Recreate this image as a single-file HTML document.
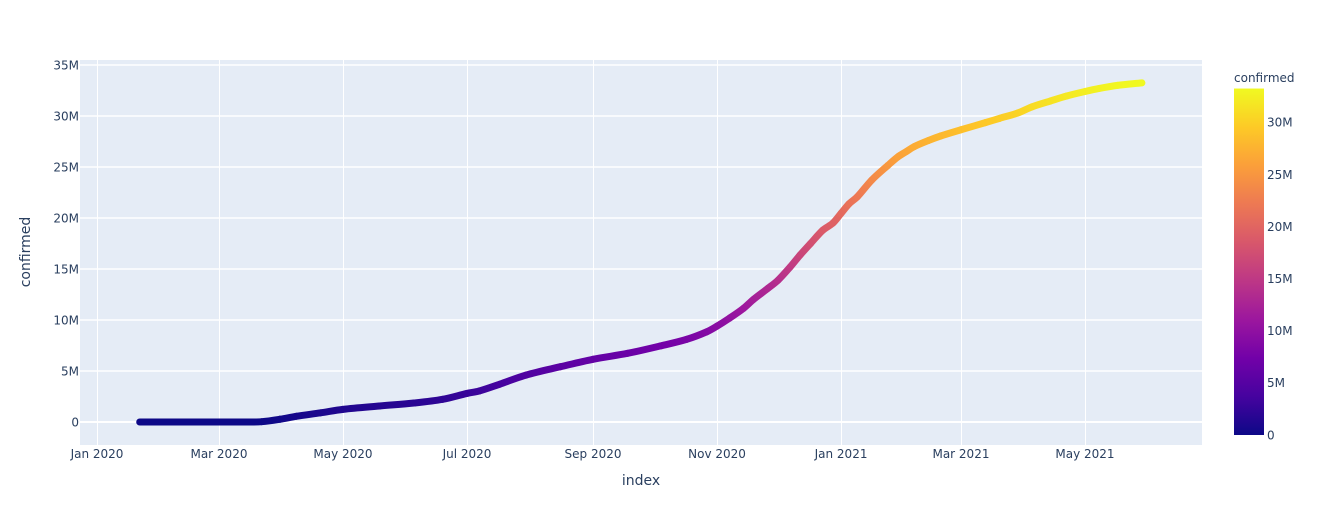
<!DOCTYPE html>
<html lang="en">
<head>
<meta charset="utf-8">
<title>Confirmed over time</title>
<style>
  html, body { margin: 0; padding: 0; background: #fff; }
  svg { display: block; }
  text { font-family: "DejaVu Sans", "Liberation Sans", sans-serif; fill: #2a3f5f; }
</style>
</head>
<body>
<svg id="chart" xmlns="http://www.w3.org/2000/svg" width="1317" height="525" viewBox="0 0 1317 525">
  <rect x="0" y="0" width="1317" height="525" fill="#ffffff"></rect>
  <rect x="80" y="60" width="1122" height="385" fill="#E5ECF6"></rect>
  <g id="grid"></g>
  <g id="series"></g>
  <g id="xticks"></g>
  <g id="yticks"></g>
  <text x="641" y="485" font-size="14" text-anchor="middle">index</text>
  <text x="0" y="0" font-size="14" text-anchor="middle" transform="translate(30,252) rotate(-90)">confirmed</text>
  <g id="colorbar"></g>
  <text x="1234" y="82" font-size="12">confirmed</text>
</svg>
<script>
const dates = ["2020-01-22","2020-02-15","2020-03-01","2020-03-15","2020-03-22","2020-03-31","2020-04-08","2020-04-20","2020-05-01","2020-05-19","2020-06-05","2020-06-19","2020-07-01","2020-07-07","2020-07-17","2020-07-30","2020-08-16","2020-09-01","2020-09-18","2020-10-04","2020-10-17","2020-10-27","2020-11-01","2020-11-07","2020-11-14","2020-11-19","2020-11-26","2020-12-01","2020-12-07","2020-12-12","2020-12-17","2020-12-23","2020-12-28","2021-01-01","2021-01-05","2021-01-09","2021-01-16","2021-01-24","2021-01-29","2021-02-02","2021-02-06","2021-02-13","2021-02-19","2021-03-01","2021-03-13","2021-03-20","2021-03-29","2021-04-05","2021-04-14","2021-04-22","2021-05-01","2021-05-08","2021-05-17","2021-05-29"];
const confirmedMillions = [0,0,0,0.003,0.03,0.27,0.56,0.9,1.24,1.57,1.86,2.22,2.8,3.04,3.7,4.6,5.42,6.15,6.73,7.45,8.1,8.85,9.4,10.16,11.14,12.03,13.1,13.9,15.2,16.4,17.5,18.8,19.5,20.45,21.4,22.08,23.7,25.15,26.0,26.5,27.0,27.6,28.04,28.65,29.35,29.77,30.3,30.9,31.47,31.96,32.4,32.7,33.0,33.25];
const xTickDates = ["2020-01-01","2020-03-01","2020-05-01","2020-07-01","2020-09-01","2020-11-01","2021-01-01","2021-03-01","2021-05-01"];
const xTickLabels = ["Jan 2020","Mar 2020","May 2020","Jul 2020","Sep 2020","Nov 2020","Jan 2021","Mar 2021","May 2021"];
const yTickValues = [0,5,10,15,20,25,30,35];
const yTickLabels = ["0","5M","10M","15M","20M","25M","30M","35M"];
const colorbarTickValues = [0,5,10,15,20,25,30];
const colorbarTickLabels = ["0","5M","10M","15M","20M","25M","30M"];
const plasma = ["#0d0887","#46039f","#7201a8","#9c179e","#bd3786","#d8576b","#ed7953","#fb9f3a","#fdca26","#f0f921"];

const NS = "http://www.w3.org/2000/svg";
const DAY0 = Date.UTC(2020, 0, 1);
function xScale(dateStr) {
  const days = (Date.parse(dateStr + "T00:00:00Z") - DAY0) / 86400000;
  return 97 + days * 2.0329;
}
function yScale(v) { return 422 - v * 10.2; }
function colorbarY(v) { return 435 - v * 10.42; }
const maxValue = Math.max(...confirmedMillions);
function hexToRgb(h) {
  return [parseInt(h.slice(1, 3), 16), parseInt(h.slice(3, 5), 16), parseInt(h.slice(5, 7), 16)];
}
function colorOf(v) {
  const t = Math.max(0, Math.min(1, v / maxValue)) * (plasma.length - 1);
  const i = Math.min(Math.floor(t), plasma.length - 2);
  const f = t - i;
  const a = hexToRgb(plasma[i]);
  const b = hexToRgb(plasma[i + 1]);
  return "rgb(" + a.map((c, k) => Math.round(c + (b[k] - c) * f)).join(",") + ")";
}
function make(tag, attrs, parent) {
  const el = document.createElementNS(NS, tag);
  for (const k in attrs) el.setAttribute(k, attrs[k]);
  parent.appendChild(el);
  return el;
}

const gridG = document.getElementById("grid");
xTickDates.forEach(function (d) {
  const x = Math.round(xScale(d)) + 0.5;
  const line = make("line", { x1: x, x2: x, y1: 60, y2: 445, stroke: "#ffffff", "stroke-width": 1 }, gridG);
  
  
});
yTickValues.forEach(function (v) {
  const y = yScale(v);
  const line = make("line", { x1: 80, x2: 1202, y1: y, y2: y, stroke: "#ffffff", "stroke-width": v === 0 ? 2 : 1.4 }, gridG);
  
  
});

const xG = document.getElementById("xticks");
xTickDates.forEach(function (d, i) {
  const t = make("text", { x: xScale(d), y: 458, "font-size": 12, "text-anchor": "middle" }, xG);
  t.textContent = xTickLabels[i];
  
  
});

const yG = document.getElementById("yticks");
yTickValues.forEach(function (v, i) {
  const t = make("text", { x: 79, y: yScale(v) + 4.3, "font-size": 12, "text-anchor": "end" }, yG);
  t.textContent = yTickLabels[i];
  
  
});

const seriesG = document.getElementById("series");
const defs = make("defs", {}, seriesG);
const pts = dates.map(function (d, i) {
  return [xScale(d), yScale(confirmedMillions[i])];
});
for (let i = 0; i < pts.length - 1; i++) {
  const p0 = pts[Math.max(0, i - 1)], p1 = pts[i], p2 = pts[i + 1], p3 = pts[Math.min(pts.length - 1, i + 2)];
  const id = "seg" + i;
  const grad = make("linearGradient", { id: id, gradientUnits: "userSpaceOnUse", x1: p1[0], y1: p1[1], x2: p2[0], y2: p2[1] }, defs);
  make("stop", { offset: 0, "stop-color": colorOf(confirmedMillions[i]) }, grad);
  make("stop", { offset: 1, "stop-color": colorOf(confirmedMillions[i + 1]) }, grad);
  const dt = p2[0] - p1[0];
  const s1 = (p2[1] - p0[1]) / (p2[0] - p0[0]);
  const s2 = (p3[1] - p1[1]) / (p3[0] - p1[0]);
  const d = "M" + p1[0] + " " + p1[1] +
    " C" + (p1[0] + dt / 3) + " " + (p1[1] + s1 * dt / 3) +
    " " + (p2[0] - dt / 3) + " " + (p2[1] - s2 * dt / 3) +
    " " + p2[0] + " " + p2[1];
  const seg = make("path", { d: d, fill: "none", stroke: "url(#" + id + ")", "stroke-width": 7, "stroke-linecap": "round" }, seriesG);
  
  
}

const cbG = document.getElementById("colorbar");
const cbGrad = make("linearGradient", { id: "plasmaGrad", x1: 0, y1: 1, x2: 0, y2: 0 }, make("defs", {}, cbG));
plasma.forEach(function (c, i) {
  make("stop", { offset: i / (plasma.length - 1), "stop-color": c }, cbGrad);
});
const cbRect = make("rect", { x: 1234, y: colorbarY(maxValue), width: 30, height: colorbarY(0) - colorbarY(maxValue), fill: "url(#plasmaGrad)" }, cbG);


colorbarTickValues.forEach(function (v, i) {
  const t = make("text", { x: 1267, y: colorbarY(v) + 4.3, "font-size": 12 }, cbG);
  t.textContent = colorbarTickLabels[i];
  
  
});
</script>
</body>
</html>
